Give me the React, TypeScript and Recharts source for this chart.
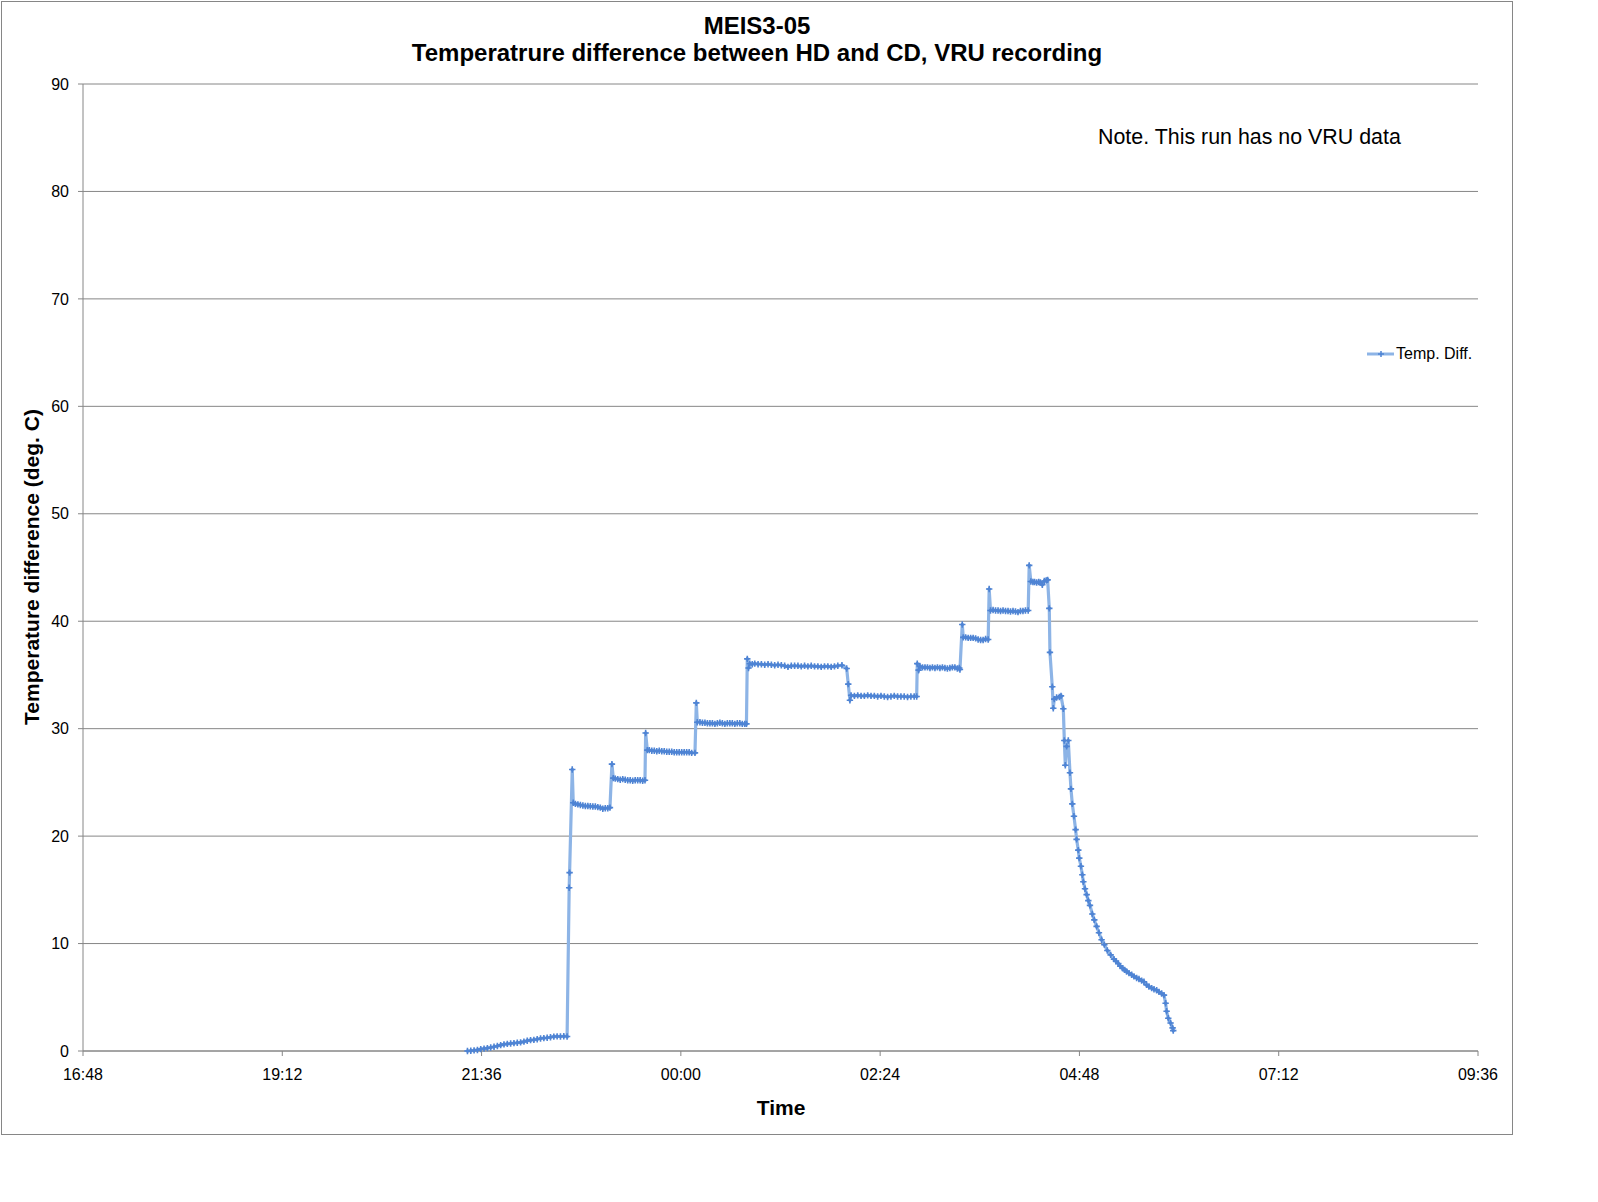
import { CartesianGrid, Line, LineChart, XAxis, YAxis } from "recharts";

// hours of the run; times after midnight keep counting from 24
const X_TICKS = [16.8, 19.2, 21.6, 24, 26.4, 28.8, 31.2, 33.6];
const Y_TICKS = [0, 10, 20, 30, 40, 50, 60, 70, 80, 90];

// [hour, temp. diff (deg C)]
const WARM_UP: [number, number][] = [
  [21.43, 0.0], [21.47, 0.03], [21.51, 0.06], [21.55, 0.1], [21.59, 0.17],
  [21.63, 0.22], [21.67, 0.27], [21.71, 0.33], [21.75, 0.4], [21.79, 0.46],
  [21.83, 0.55], [21.87, 0.62], [21.91, 0.66], [21.95, 0.7], [21.99, 0.73],
  [22.03, 0.77], [22.07, 0.8], [22.11, 0.87], [22.15, 0.96], [22.19, 1.01],
  [22.23, 1.04], [22.27, 1.1], [22.31, 1.16], [22.35, 1.2], [22.39, 1.23],
  [22.43, 1.28], [22.47, 1.34], [22.51, 1.36], [22.55, 1.35], [22.59, 1.37],
  [22.63, 1.35],
];

const STEP_1: [number, number][] = [
  [22.655, 15.2], [22.66, 16.6], [22.692, 26.2], [22.704, 23.1], [22.73, 23.0],
  [22.76, 22.95], [22.79, 22.9], [22.82, 22.85], [22.85, 22.8], [22.88, 22.8],
  [22.91, 22.78], [22.94, 22.75], [22.97, 22.75], [23.0, 22.7], [23.03, 22.65],
  [23.06, 22.55], [23.09, 22.6], [23.12, 22.6], [23.146, 22.65],
];

const STEP_2: [number, number][] = [
  [23.17, 26.7], [23.186, 25.4], [23.21, 25.35], [23.24, 25.3], [23.27, 25.25],
  [23.3, 25.3], [23.33, 25.25], [23.36, 25.2], [23.39, 25.2], [23.42, 25.15],
  [23.45, 25.2], [23.48, 25.2], [23.51, 25.2], [23.54, 25.15], [23.568, 25.2],
];

const STEP_3: [number, number][] = [
  [23.576, 29.6], [23.596, 28.0], [23.62, 28.0], [23.65, 27.95], [23.68, 27.95],
  [23.71, 27.9], [23.74, 27.95], [23.77, 27.9], [23.8, 27.9], [23.83, 27.85],
  [23.86, 27.85], [23.89, 27.85], [23.92, 27.8], [23.95, 27.8], [23.98, 27.8],
  [24.01, 27.8], [24.04, 27.8], [24.07, 27.8], [24.1, 27.8], [24.13, 27.75],
  [24.17, 27.75],
];

const STEP_4: [number, number][] = [
  [24.186, 32.4], [24.198, 30.6], [24.23, 30.6], [24.26, 30.55], [24.29, 30.55],
  [24.32, 30.5], [24.35, 30.5], [24.38, 30.5], [24.41, 30.45], [24.44, 30.5],
  [24.47, 30.55], [24.5, 30.5], [24.53, 30.45], [24.56, 30.5], [24.59, 30.5],
  [24.62, 30.5], [24.65, 30.45], [24.68, 30.5], [24.71, 30.5], [24.74, 30.45],
  [24.77, 30.45], [24.79, 30.45],
];

const STEP_5: [number, number][] = [
  [24.8, 36.5], [24.815, 35.65], [24.83, 36.05], [24.86, 36.0], [24.89, 36.05],
  [24.93, 36.0], [24.97, 36.0], [25.01, 35.95], [25.05, 36.0], [25.09, 35.95],
  [25.13, 35.9], [25.17, 35.95], [25.21, 35.9], [25.25, 35.85], [25.29, 35.75],
  [25.33, 35.85], [25.37, 35.85], [25.41, 35.85], [25.45, 35.8], [25.49, 35.85],
  [25.53, 35.8], [25.57, 35.85], [25.61, 35.8], [25.65, 35.8], [25.69, 35.75],
  [25.73, 35.8], [25.77, 35.8], [25.81, 35.75], [25.85, 35.8], [25.89, 35.85],
  [25.94, 35.9], [25.997, 35.6],
];

const STEP_6: [number, number][] = [
  [26.016, 34.15], [26.036, 32.65], [26.05, 33.1], [26.09, 33.05], [26.13, 33.1],
  [26.17, 33.05], [26.21, 33.05], [26.25, 33.1], [26.29, 33.05], [26.33, 33.05],
  [26.37, 33.0], [26.41, 33.05], [26.45, 33.0], [26.49, 32.95], [26.53, 33.0],
  [26.57, 33.05], [26.61, 33.0], [26.65, 33.0], [26.69, 33.0], [26.73, 32.95],
  [26.77, 33.0], [26.81, 33.0], [26.84, 33.0],
];

const STEP_7: [number, number][] = [
  [26.847, 36.05], [26.863, 35.45], [26.879, 35.8], [26.91, 35.7], [26.94, 35.7],
  [26.97, 35.7], [27.0, 35.65], [27.03, 35.7], [27.06, 35.65], [27.09, 35.7],
  [27.12, 35.65], [27.15, 35.7], [27.18, 35.65], [27.21, 35.6], [27.24, 35.65],
  [27.27, 35.7], [27.3, 35.7], [27.33, 35.6], [27.353, 35.65], [27.361, 35.5],
];

const STEP_8: [number, number][] = [
  [27.389, 39.7], [27.401, 38.5], [27.43, 38.5], [27.46, 38.45], [27.49, 38.45],
  [27.52, 38.45], [27.55, 38.4], [27.58, 38.3], [27.61, 38.25], [27.64, 38.25],
  [27.67, 38.35], [27.701, 38.3],
];

const STEP_9: [number, number][] = [
  [27.713, 43.0], [27.729, 41.0], [27.76, 41.05], [27.79, 41.0], [27.82, 41.0],
  [27.85, 40.95], [27.88, 41.0], [27.91, 40.95], [27.94, 40.95], [27.97, 40.9],
  [28.0, 40.95], [28.03, 40.9], [28.06, 40.85], [28.09, 40.95], [28.12, 40.95],
  [28.15, 41.0], [28.183, 41.0],
];

const STEP_10: [number, number][] = [
  [28.195, 45.2], [28.215, 43.7], [28.24, 43.65], [28.26, 43.65], [28.285, 43.6],
  [28.31, 43.65], [28.33, 43.6], [28.353, 43.4], [28.377, 43.75], [28.4, 43.8],
  [28.417, 43.85],
];

const COOL_DOWN: [number, number][] = [
  [28.437, 41.2], [28.445, 37.1], [28.473, 33.9], [28.485, 31.9], [28.497, 32.75],
  [28.525, 32.9], [28.558, 32.95], [28.578, 33.05], [28.606, 31.85], [28.618, 28.9],
  [28.63, 26.6], [28.646, 28.35], [28.666, 28.9], [28.686, 25.9], [28.698, 24.4],
  [28.714, 23.0], [28.734, 21.85], [28.754, 20.6], [28.766, 19.7], [28.786, 18.7],
  [28.798, 17.95], [28.818, 17.2], [28.835, 16.4], [28.847, 15.75], [28.867, 15.1],
  [28.887, 14.55], [28.907, 14.0], [28.927, 13.55], [28.955, 12.75], [28.979, 12.2],
  [29.007, 11.6], [29.035, 11.0], [29.067, 10.35], [29.1, 9.9], [29.136, 9.35],
  [29.176, 8.95], [29.216, 8.55], [29.24, 8.35], [29.268, 8.15], [29.292, 7.9],
  [29.32, 7.7], [29.344, 7.55], [29.368, 7.4], [29.397, 7.25], [29.429, 7.1],
  [29.457, 6.95], [29.489, 6.8], [29.517, 6.7], [29.549, 6.55], [29.577, 6.45],
  [29.609, 6.15], [29.637, 6.0], [29.67, 5.85], [29.698, 5.75], [29.73, 5.65],
  [29.758, 5.5], [29.79, 5.35], [29.818, 5.2], [29.838, 4.45], [29.85, 3.7],
  [29.87, 3.05], [29.898, 2.6], [29.922, 2.15], [29.93, 1.9],
];

const SERIES = [
  ...WARM_UP, ...STEP_1, ...STEP_2, ...STEP_3, ...STEP_4, ...STEP_5,
  ...STEP_6, ...STEP_7, ...STEP_8, ...STEP_9, ...STEP_10, ...COOL_DOWN,
].map(([t, v]) => ({ t, v }));

const FONT = '"Liberation Sans", Arial, sans-serif';
const GRID = "#868686";
const LINE = "#8db4e6";
const MARKER = "#4f84d4";

function clock(h: number): string {
  const m = Math.round(h * 60) % 1440;
  const hh = String(Math.floor(m / 60)).padStart(2, "0");
  const mm = String(m % 60).padStart(2, "0");
  return `${hh}:${mm}`;
}

function MarkerDot(props: any) {
  const { cx, cy, index } = props;
  if (cx == null || cy == null) return <g key={index} />;
  const r = 3.2;
  const d = 2.3;
  return (
    <g key={index}>
      <path
        d={`M${cx - r},${cy}L${cx + r},${cy}M${cx},${cy - r}L${cx},${cy + r}`}
        stroke={MARKER}
        strokeWidth={1.6}
      />
      <path
        d={`M${cx},${cy - d}L${cx + d},${cy}L${cx},${cy + d}L${cx - d},${cy}Z`}
        fill={MARKER}
      />
    </g>
  );
}

const abs = (left: number, top: number): React.CSSProperties => ({
  position: "absolute",
  left,
  top,
  fontFamily: FONT,
  color: "#000",
  lineHeight: 1,
  whiteSpace: "nowrap",
});

export default function App() {
  return (
    <div style={{ position: "absolute", left: 0, top: 0, width: 1598, height: 1202, background: "#fff" }}>
      <div
        style={{
          position: "absolute",
          left: 1,
          top: 1,
          width: 1512,
          height: 1134,
          border: `1px solid ${GRID}`,
          boxSizing: "border-box",
        }}
      />
      <div style={{ position: "absolute", left: 0, top: 0 }}>
        <LineChart
          width={1514}
          height={1136}
          data={SERIES}
          margin={{ top: 84, right: 36, bottom: 45, left: 23 }}
        >
          <CartesianGrid vertical={false} stroke={GRID} strokeWidth={1} />
          <XAxis
            dataKey="t"
            type="number"
            domain={[16.8, 33.6]}
            ticks={X_TICKS}
            interval={0}
            tickFormatter={clock}
            height={40}
            tickSize={5}
            tickMargin={13}
            axisLine={{ stroke: GRID }}
            tickLine={{ stroke: GRID }}
            tick={{ fill: "#000", fontSize: 16, fontFamily: FONT }}
          />
          <YAxis
            type="number"
            domain={[0, 90]}
            ticks={Y_TICKS}
            interval={0}
            width={60}
            tickSize={5}
            tickMargin={9}
            axisLine={{ stroke: GRID }}
            tickLine={{ stroke: GRID }}
            tick={{ fill: "#000", fontSize: 16, fontFamily: FONT }}
          />
          <Line
            type="linear"
            dataKey="v"
            name="Temp. Diff."
            stroke={LINE}
            strokeWidth={3.2}
            dot={MarkerDot}
            activeDot={false}
            isAnimationActive={false}
          />
        </LineChart>
      </div>

      <div style={{ ...abs(757, 25.5), fontSize: 24, fontWeight: 700, transform: "translate(-50%, -50%)" }}>
        MEIS3-05
      </div>
      <div style={{ ...abs(757, 53), fontSize: 24, fontWeight: 700, transform: "translate(-50%, -50%)" }}>
        Temperatrure difference between HD and CD, VRU recording
      </div>
      <div style={{ ...abs(1098, 138), fontSize: 21.4, transform: "translateY(-50%)" }}>
        Note. This run has no VRU data
      </div>
      <div style={{ ...abs(781, 1107), fontSize: 21, fontWeight: 700, transform: "translate(-50%, -50%)" }}>
        Time
      </div>
      <div
        style={{
          ...abs(31, 567),
          fontSize: 21,
          fontWeight: 700,
          transform: "translate(-50%, -50%) rotate(-90deg)",
        }}
      >
        Temperature difference (deg. C)
      </div>

      <div style={{ ...abs(1367, 354), display: "flex", alignItems: "center", transform: "translateY(-50%)" }}>
        <svg width={28} height={12}>
          <line x1={0} y1={6} x2={27} y2={6} stroke={LINE} strokeWidth={3} />
          <path d="M11,6L17,6M14,3L14,9" stroke={MARKER} strokeWidth={1.5} />
        </svg>
        <span style={{ fontSize: 16, marginLeft: 1 }}>Temp. Diff.</span>
      </div>
    </div>
  );
}
